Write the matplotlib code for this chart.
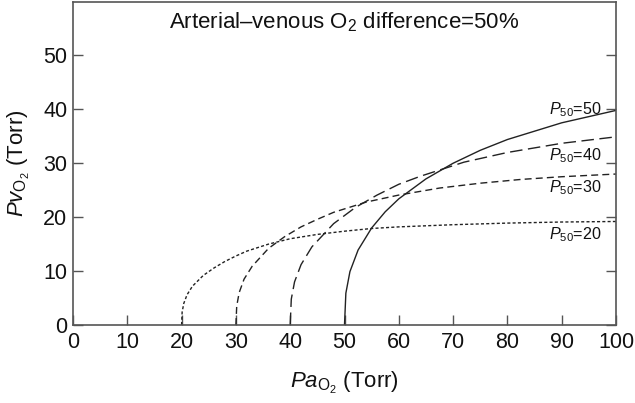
import matplotlib
matplotlib.use("Agg")
import matplotlib.pyplot as plt

plt.rcParams['font.family'] = ['Liberation Sans', 'DejaVu Sans']
plt.rcParams['mathtext.fontset'] = 'custom'
plt.rcParams['mathtext.rm'] = 'Liberation Sans'
plt.rcParams['mathtext.it'] = 'Liberation Sans:italic'

# Data
pa_50 = [50, 50.25, 51, 52.5, 55, 57.5, 60, 65, 70, 75, 80, 90, 100]
pv_50 = [0, 5.9, 9.9, 13.9, 18.0, 21.0, 23.4, 27.1, 30.0, 32.4, 34.4, 37.5, 39.8]

pa_40 = [40, 40.2, 40.8, 42, 44, 48, 52, 56, 60, 64, 72, 80, 90, 100]
pv_40 = [0, 4.8, 8.0, 11.2, 14.5, 18.8, 21.8, 24.1, 26.1, 27.6, 30.2, 32.0, 33.7, 34.9]

pa_30 = [30, 30.15, 30.6, 31.5, 33, 36, 39, 42, 45, 48, 54, 60, 67.5, 75, 82.5, 90, 100]
pv_30 = [0, 3.5, 6.0, 8.5, 10.9, 14.2, 16.4, 18.2, 19.6, 20.9, 22.8, 24.1, 25.4, 26.3, 27.0, 27.5, 28.0]

pa_20 = [20, 20.1, 20.4, 21, 22, 24, 26, 28, 30, 32, 36, 40, 45, 50, 55, 60, 70, 80, 90, 100]
pv_20 = [0, 2.4, 4.0, 5.6, 7.2, 9.2, 10.6, 11.8, 12.8, 13.7, 15.0, 16.0, 16.8, 17.4, 17.9, 18.2, 18.6, 18.9, 19.1, 19.2]

curve_labels = ['50', '40', '30', '20']
label_y = [40.0, 31.4, 25.5, 16.8]

x_ticks = [0, 10, 20, 30, 40, 50, 60, 70, 80, 90, 100]
y_ticks = [0, 10, 20, 30, 40, 50]

fig = plt.figure(figsize=(6.35, 4.03), dpi=100)
ax = fig.add_axes([73/635, 1-325/403, (616-73)/635, (325-1.5)/403])

lc = '#222222'
ax.plot(pa_50, pv_50, color=lc, lw=1.0, linestyle='-')
ax.plot(pa_40, pv_40, color=lc, lw=1.0, linestyle=(0, (9, 4)))
ax.plot(pa_30, pv_30, color=lc, lw=1.0, linestyle=(0, (5, 3)))
ax.plot(pa_20, pv_20, color=lc, lw=1.0, linestyle=(0, (2.2, 1.6)))

for lab, yy in zip(curve_labels, label_y):
    ax.text(97.3, yy, r'$\it{P}_{\rm 50}$=' + lab, ha='right', va='center',
            fontsize=11.6, color='#111111')

ax.text(0.5, 0.937, r'Arterial–venous O$_2$ difference=50%', transform=ax.transAxes,
        ha='center', va='center', fontsize=16, color='#111111')

ax.set_xlim(0, 100)
ax.set_ylim(0, 60)
ax.set_xticks(x_ticks)
ax.set_yticks(y_ticks)

sc = '#555555'
for s in ax.spines.values():
    s.set_color(sc)
    s.set_linewidth(1.2)
ax.tick_params(axis='both', direction='in', length=7.5, width=1.0, color=sc,
               labelsize=15.5, labelcolor='#111111')
ax.tick_params(axis='x', pad=5)
ax.tick_params(axis='y', pad=4)
ax.tick_params(axis='y', right=True)

ax.set_xlabel(r'$\it{Pa}_{\rm O_2}$ (Torr)', fontsize=16, labelpad=12, color='#111111')
ax.set_ylabel(r'$\it{Pv}_{\rm O_2}$ (Torr)', fontsize=16, labelpad=8, color='#111111')

fig.savefig('out.png', dpi=100)
